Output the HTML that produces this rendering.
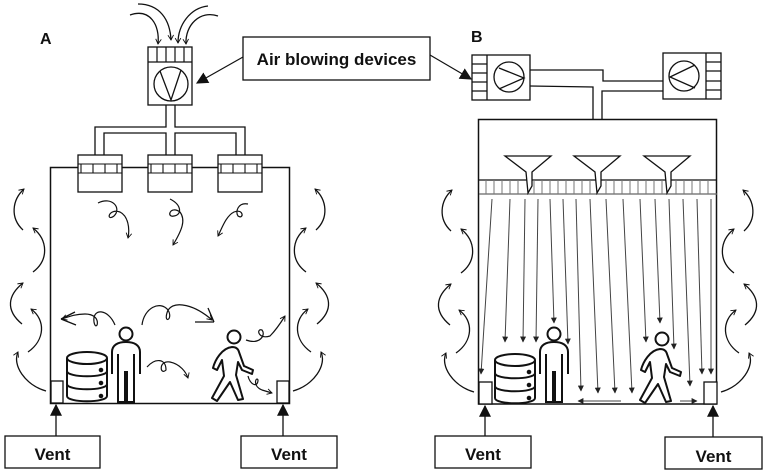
<!DOCTYPE html>
<html><head><meta charset="utf-8"><style>
html,body{margin:0;padding:0;background:#fff;}
svg{display:block;}
text{font-family:"Liberation Sans",sans-serif;font-weight:bold;fill:#111;}
</style></head><body>
<svg width="765" height="474" viewBox="0 0 765 474" xmlns="http://www.w3.org/2000/svg">
<defs>
<marker id="ch" viewBox="0 0 10 10" refX="8" refY="5" markerWidth="7" markerHeight="7" orient="auto" markerUnits="userSpaceOnUse">
<path d="M1,1 L8,5 L1,9" fill="none" stroke="#111" stroke-width="1.3"/></marker>
<marker id="tri" viewBox="0 0 10 10" refX="9" refY="5" markerWidth="12" markerHeight="12" orient="auto" markerUnits="userSpaceOnUse">
<path d="M0,0 L10,5 L0,10 Z" fill="#111"/></marker>
<marker id="st" viewBox="0 0 10 10" refX="9" refY="5" markerWidth="6" markerHeight="6" orient="auto" markerUnits="userSpaceOnUse">
<path d="M0,0 L10,5 L0,10 Z" fill="#222"/></marker>
<g id="side" fill="none" stroke="#111" stroke-width="1.3" marker-end="url(#ch)">
<path d="M-4,221 C-25,215 -38,195 -32,182"/>
<path d="M-22,182 C-5,170 -4,150 -19,139"/>
<path d="M-28,154 C-45,140 -42,125 -27,113"/>
<path d="M-17,102 C-1,90 -2,70 -17,58"/>
<path d="M-27,60 C-40,48 -38,30 -26,19"/>
</g>
<g id="db" fill="#fff" stroke="#111" stroke-width="2">
<path d="M0,8 L0,46 C0,53 40,53 40,46 L40,8"/>
<ellipse cx="20" cy="8" rx="20" ry="6"/>
<path d="M0,21 C0,28 40,28 40,21 M0,34 C0,41 40,41 40,34" fill="none"/>
<circle cx="34" cy="20" r="1.3" fill="#111"/><circle cx="34" cy="33" r="1.3" fill="#111"/><circle cx="34" cy="46" r="1.3" fill="#111"/>
</g>
<g id="man" fill="none" stroke="#111" stroke-width="2">
<circle cx="16" cy="7" r="6.5"/>
<path d="M2,47 L2,25 C2,18 8,15 16,15 C24,15 30,18 30,25 L30,47 M8,27 L8,75 L15,75 L15,44 M17,44 L17,75 L24,75 L24,27"/>
</g>
<g id="walk" fill="none" stroke="#111" stroke-width="2" stroke-linejoin="round">
<circle cx="24" cy="7" r="6.5"/>
<path d="M22,17 C12,18 5,30 3,38 L7,40 L12,30 L14,46 L2,68 L7,71 L20,52 L28,70 L33,69 L26,45 L28,32 L32,40 L42,44 L43,40 L34,36 L29,22 C28,18 25,17 22,17 Z"/>
</g>
</defs>

<!-- ============ PANEL A ============ -->
<text x="40" y="44" font-size="16">A</text>
<!-- intake arrows -->
<g fill="none" stroke="#111" stroke-width="1.3" marker-end="url(#ch)">
<path d="M130,15 C150,8 160,25 158,44"/>
<path d="M138,4 C160,4 170,20 171,40"/>
<path d="M218,16 C200,10 185,25 186,44"/>
<path d="M208,6 C190,8 178,25 178,43"/>
</g>
<rect x="148" y="47" width="44" height="58" fill="#fff" stroke="#111" stroke-width="1.3"/>
<line x1="148" y1="62" x2="192" y2="62" stroke="#111" stroke-width="1.3"/>
<g stroke="#111" stroke-width="1.2"><line x1="157" y1="47" x2="157" y2="62"/><line x1="166" y1="47" x2="166" y2="62"/><line x1="175" y1="47" x2="175" y2="62"/><line x1="184" y1="47" x2="184" y2="62"/></g>
<circle cx="171" cy="84" r="17" fill="none" stroke="#111" stroke-width="1.3"/>
<path d="M160,71 L171,100 L181,70" fill="none" stroke="#111" stroke-width="1.3"/>
<!-- ducts -->
<g fill="none" stroke="#111" stroke-width="1.3">
<path d="M166,105 L166,127 L95,127 L95,155"/>
<path d="M175,105 L175,127 L245,127 L245,155"/>
<path d="M104,155 L104,133 L166,133 L166,155"/>
<path d="M175,155 L175,133 L236,133 L236,155"/>
</g>
<!-- room A -->
<rect x="50.5" y="167.5" width="239" height="236" fill="none" stroke="#111" stroke-width="1.5"/>
<g fill="#fff" stroke="#111" stroke-width="1.3">
<rect x="78" y="155" width="44" height="37"/><rect x="148" y="155" width="44" height="37"/><rect x="218" y="155" width="44" height="37"/>
</g>
<g stroke="#111" stroke-width="1.1" fill="none">
<path d="M78,164 H122 M78,173 H122 M148,164 H192 M148,173 H192 M218,164 H262 M218,173 H262"/>
<path d="M81,164 V173 M93,164 V173 M105,164 V173 M117,164 V173 M151,164 V173 M163,164 V173 M175,164 V173 M187,164 V173 M221,164 V173 M233,164 V173 M245,164 V173 M257,164 V173"/>
</g>
<!-- swirls inside A -->
<g fill="none" stroke="#111" stroke-width="1.2" marker-end="url(#ch)">
<path d="M98,203 C112,196 122,208 114,216 C106,222 108,208 120,212 C128,216 130,228 128,238"/>
<path d="M170,199 C182,205 182,215 174,216 C166,218 170,205 180,212 C186,220 182,230 173,245"/>
<path d="M248,204 C238,202 235,212 238,216 C244,220 244,208 234,212 C226,216 222,228 218,236"/>
<path d="M115,325 C108,308 92,308 94,322 C96,334 104,314 85,314 C75,314 68,317 62,319"/>
<path d="M142,325 C144,308 160,300 168,310 C174,320 162,325 168,310 C175,300 195,305 212,320"/>
<path d="M147,367 C155,358 166,358 166,370 C160,376 158,360 170,362 C180,364 186,372 188,378"/>
<path d="M246,340 C260,345 266,335 262,330 C256,328 258,340 270,336 C276,330 280,324 285,316"/>
<path d="M248,376 C250,385 258,388 258,380 C256,376 252,386 262,390 L272,393"/>
</g>
<path d="M61,319 L75,312 M61,319 L76,325" fill="none" stroke="#111" stroke-width="1.3"/>
<path d="M214,322 L208,308 M214,322 L195,322" fill="none" stroke="#111" stroke-width="1.3"/>
<use href="#db" x="67" y="350"/>
<use href="#man" x="110" y="327"/>
<use href="#walk" x="210" y="330"/>
<!-- side arcs A -->
<use href="#side" x="50" y="170"/>
<use href="#side" transform="translate(289,0) scale(-1,1)" y="170"/>
<!-- vents A -->
<rect x="51" y="381" width="12" height="22" fill="#fff" stroke="#111" stroke-width="1.3"/>
<rect x="277" y="381" width="12" height="22" fill="#fff" stroke="#111" stroke-width="1.3"/>
<line x1="56" y1="436" x2="56" y2="405" stroke="#111" stroke-width="1.3" marker-end="url(#tri)"/>
<line x1="283" y1="436" x2="283" y2="405" stroke="#111" stroke-width="1.3" marker-end="url(#tri)"/>
<rect x="5" y="436" width="95" height="32" fill="#fff" stroke="#111" stroke-width="1.3"/>
<text x="52.5" y="460" font-size="17" text-anchor="middle">Vent</text>
<rect x="241" y="436" width="96" height="32" fill="#fff" stroke="#111" stroke-width="1.3"/>
<text x="289" y="460" font-size="17" text-anchor="middle">Vent</text>

<!-- label box -->
<rect x="243" y="37" width="187" height="43" fill="#fff" stroke="#111" stroke-width="1.3"/>
<text x="336.5" y="65" font-size="17" text-anchor="middle">Air blowing devices</text>
<line x1="243" y1="57" x2="197" y2="83" stroke="#111" stroke-width="1.2" marker-end="url(#tri)"/>
<line x1="430" y1="55" x2="471" y2="79" stroke="#111" stroke-width="1.2" marker-end="url(#tri)"/>

<!-- ============ PANEL B ============ -->
<text x="471" y="42" font-size="16">B</text>
<g fill="none" stroke="#111" stroke-width="1.3">
<rect x="472" y="55" width="58" height="45" fill="#fff"/>
<line x1="487" y1="55" x2="487" y2="100"/>
<path d="M472,64 H487 M472,73 H487 M472,82 H487 M472,91 H487"/>
<circle cx="509" cy="77" r="15"/>
<path d="M499,68 L524,78 L499,89"/>
<rect x="663" y="53" width="58" height="46" fill="#fff"/>
<line x1="706" y1="53" x2="706" y2="99"/>
<path d="M706,62 H721 M706,71 H721 M706,81 H721 M706,90 H721"/>
<circle cx="684" cy="76" r="15"/>
<path d="M695,65 L670,77 L695,88"/>
<path d="M530,70 L603,70 L603,81 L663,81"/>
<path d="M530,86 L593,87 L593,119"/>
<path d="M663,91 L602,91 L602,119"/>
<rect x="478.5" y="119.5" width="238" height="284.5" stroke-width="1.5"/>
<line x1="479" y1="180" x2="717" y2="180"/>
<line x1="479" y1="194" x2="717" y2="194" stroke="#666"/>
</g>
<g stroke="#777" stroke-width="1">
<path d="M486,180V194 M494,180V194 M502,180V194 M510,180V194 M518,180V194 M534,180V194 M542,180V194 M550,180V194 M558,180V194 M566,180V194 M574,180V194 M582,180V194 M590,180V194 M606,180V194 M614,180V194 M622,180V194 M630,180V194 M638,180V194 M646,180V194 M654,180V194 M662,180V194 M676,180V194 M684,180V194 M692,180V194 M700,180V194 M708,180V194"/>
</g>
<!-- funnels -->
<g fill="#fff" stroke="#111" stroke-width="1.3">
<path d="M505,156 L551,156 L532,172 L532,186 L528,193 L526,172 Z"/>
<path d="M574,156 L620,156 L601,172 L601,186 L597,193 L595,172 Z"/>
<path d="M644,156 L690,156 L671,172 L671,186 L667,193 L665,172 Z"/>
</g>
<!-- downward streams -->
<g stroke="#444" stroke-width="1" marker-end="url(#st)">
<line x1="492" y1="199" x2="481" y2="374"/>
<line x1="510" y1="199" x2="505" y2="342"/>
<line x1="525" y1="199" x2="523" y2="342"/>
<line x1="538" y1="199" x2="536" y2="342"/>
<line x1="550" y1="199" x2="554" y2="323"/>
<line x1="563" y1="199" x2="568" y2="344"/>
<line x1="576" y1="199" x2="581" y2="391"/>
<line x1="590" y1="199" x2="598" y2="393"/>
<line x1="606" y1="199" x2="615" y2="393"/>
<line x1="623" y1="199" x2="632" y2="393"/>
<line x1="640" y1="199" x2="646" y2="342"/>
<line x1="655" y1="199" x2="660" y2="323"/>
<line x1="669" y1="199" x2="674" y2="349"/>
<line x1="683" y1="199" x2="690" y2="386"/>
<line x1="697" y1="199" x2="702" y2="374"/>
<line x1="711" y1="199" x2="711" y2="374"/>
<line x1="621" y1="401" x2="578" y2="401"/>
<line x1="680" y1="401" x2="697" y2="401"/>
</g>
<use href="#db" x="495" y="352"/>
<use href="#man" x="538" y="327"/>
<use href="#walk" x="638" y="332"/>
<use href="#side" x="478" y="171"/>
<use href="#side" transform="translate(717,0) scale(-1,1)" y="171"/>
<rect x="479" y="382" width="13" height="22" fill="#fff" stroke="#111" stroke-width="1.3"/>
<rect x="704" y="382" width="13" height="22" fill="#fff" stroke="#111" stroke-width="1.3"/>
<line x1="485" y1="436" x2="485" y2="406" stroke="#111" stroke-width="1.3" marker-end="url(#tri)"/>
<line x1="713" y1="437" x2="713" y2="406" stroke="#111" stroke-width="1.3" marker-end="url(#tri)"/>
<rect x="435" y="436" width="96" height="32" fill="#fff" stroke="#111" stroke-width="1.3"/>
<text x="483" y="460" font-size="17" text-anchor="middle">Vent</text>
<rect x="665" y="437" width="97" height="32" fill="#fff" stroke="#111" stroke-width="1.3"/>
<text x="713.5" y="462" font-size="17" text-anchor="middle">Vent</text>
</svg>
</body></html>
